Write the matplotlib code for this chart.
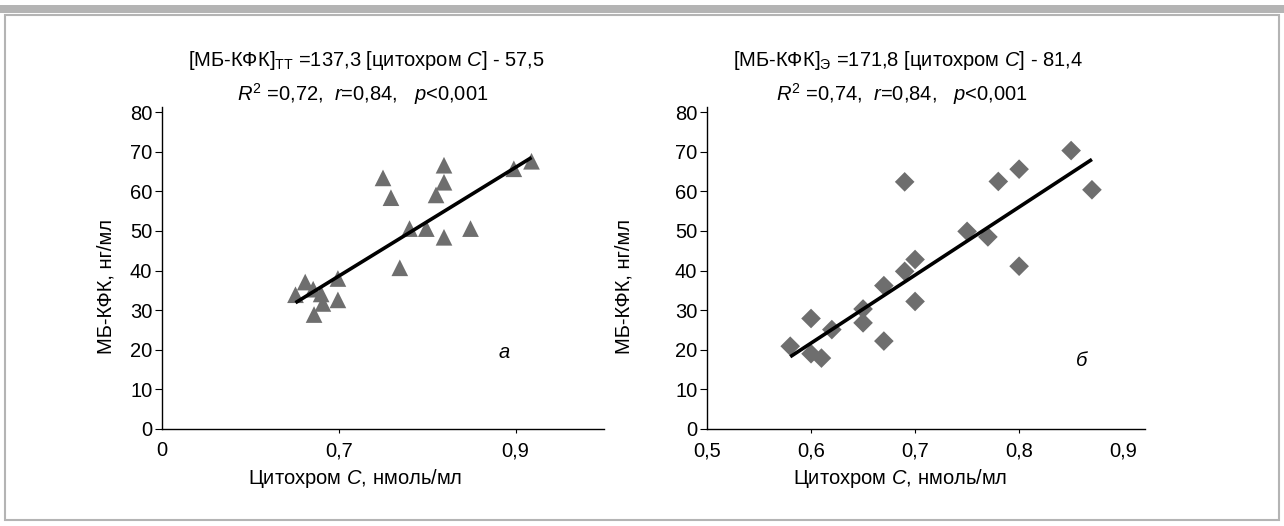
import matplotlib
matplotlib.use('Agg')
import matplotlib.pyplot as plt
from matplotlib.patches import Rectangle
import numpy as np

plt.rcParams['font.family'] = ['Liberation Sans', 'DejaVu Sans']
plt.rcParams['mathtext.fontset'] = 'custom'
plt.rcParams['mathtext.rm'] = 'Liberation Sans'
plt.rcParams['mathtext.it'] = 'Liberation Sans:italic'

# ── данные ──
tt_x = [0.651, 0.662, 0.671, 0.680, 0.682, 0.672, 0.699, 0.699, 0.750, 0.759,
        0.769, 0.780, 0.799, 0.810, 0.819, 0.819, 0.819, 0.849, 0.898, 0.918]
tt_y = [33.9, 37.1, 35.3, 34.1, 31.7, 28.9, 38.0, 32.6, 63.4, 58.4,
        40.7, 50.6, 50.6, 59.1, 66.6, 62.3, 48.4, 50.6, 65.7, 67.6]
tt_fit = (137.3, -57.5)

e_x = [0.58, 0.60, 0.62, 0.65, 0.65, 0.67, 0.67, 0.69, 0.69, 0.70,
       0.70, 0.75, 0.77, 0.78, 0.80, 0.80, 0.85, 0.87, 0.60, 0.61]
e_y = [20.9, 27.9, 25.1, 30.3, 26.8, 36.2, 22.2, 62.4, 39.8, 42.8,
       32.2, 49.9, 48.5, 62.5, 65.6, 41.1, 70.3, 60.4, 19.0, 17.9]
e_fit = (171.8, -81.4)

y_ticks = [0, 10, 20, 30, 40, 50, 60, 70, 80]
tt_xticks = [0.5, 0.7, 0.9]
tt_xlabels = ['0', '0,7', '0,9']
e_xticks = [0.5, 0.6, 0.7, 0.8, 0.9]
e_xlabels = ['0,5', '0,6', '0,7', '0,8', '0,9']

W, H = 1284, 526
FS = 14.5
GRAY = '#6e6e6e'


def fx(px):
    return px / W


def fy(py):
    return 1 - py / H


fig = plt.figure(figsize=(W / 100, H / 100), dpi=100)

# рамка
fig.patches.append(Rectangle((0, fy(13)), 1, fy(5) - fy(13), transform=fig.transFigure,
                             facecolor='#b4b4b4', edgecolor='none'))
fig.patches.append(Rectangle((fx(5), fy(520)), fx(1274), fy(15) - fy(520), transform=fig.transFigure,
                             facecolor='none', edgecolor='#b4b4b4', lw=1.5))


def panel(ax, x, y, fit, marker, ms, xlim, xticks, xlabels):
    ax.scatter(x, y, marker=marker, s=ms ** 2, color=GRAY, edgecolors='none', zorder=2)
    xs = np.array([min(x), max(x)])
    ax.plot(xs, fit[0] * xs + fit[1], color='black', lw=2.6, solid_capstyle='butt', zorder=3)
    ax.set_xlim(*xlim)
    ax.set_ylim(0, 81.3)
    ax.set_yticks(y_ticks)
    ax.set_xticks(xticks)
    ax.set_xticklabels(xlabels)
    for s in ['top', 'right']:
        ax.spines[s].set_visible(False)
    for s in ['left', 'bottom']:
        ax.spines[s].set_linewidth(1.0)
    ax.tick_params(axis='y', direction='out', length=5, width=0.8, pad=2, labelsize=FS)
    ax.tick_params(axis='x', direction='out', length=3, width=0.8, pad=6, labelsize=FS)


ax1 = fig.add_axes([fx(162), fy(429), fx(442), (429 - 107) / H])
panel(ax1, tt_x, tt_y, tt_fit, '^', 12, (0.5, 1.0), tt_xticks, tt_xlabels)
ax1.xaxis.get_major_ticks()[0].tick1line.set_visible(False)
ax1.text(0.887, 19.2, 'а', fontsize=FS, style='italic', ha='center', va='center')

ax2 = fig.add_axes([fx(707), fy(429), fx(438), (429 - 107) / H])
panel(ax2, e_x, e_y, e_fit, 'D', 10, (0.5, 0.921), e_xticks, e_xlabels)
ax2.xaxis.get_major_ticks()[0].tick1line.set_visible(False)
ax2.xaxis.get_major_ticks()[-1].tick1line.set_visible(False)
ax2.text(0.86, 17.3, 'б', fontsize=FS, style='italic', ha='center', va='center')

# заголовки
fig.text(fx(366), fy(60), r'[МБ-КФК]$_{\mathrm{ТТ}}$ =137,3 [цитохром $C$] - 57,5',
         fontsize=FS, ha='center', va='center')
fig.text(fx(363), fy(94), r'$R^2$ =0,72,  $r$=0,84,   $p$<0,001',
         fontsize=FS, ha='center', va='center')
fig.text(fx(908), fy(60), r'[МБ-КФК]$_{\mathrm{Э}}$ =171,8 [цитохром $C$] - 81,4',
         fontsize=FS, ha='center', va='center')
fig.text(fx(902), fy(94), r'$R^2$ =0,74,  $r$=0,84,   $p$<0,001',
         fontsize=FS, ha='center', va='center')

# подписи осей
for cx in (355, 900):
    fig.text(fx(cx), fy(479), r'Цитохром $C$, нмоль/мл', fontsize=FS, ha='center', va='center')
for cx in (106, 624):
    fig.text(fx(cx), fy(287), 'МБ-КФК, нг/мл', fontsize=FS, rotation=90, ha='center', va='center')

fig.savefig('out.png', dpi=100)
